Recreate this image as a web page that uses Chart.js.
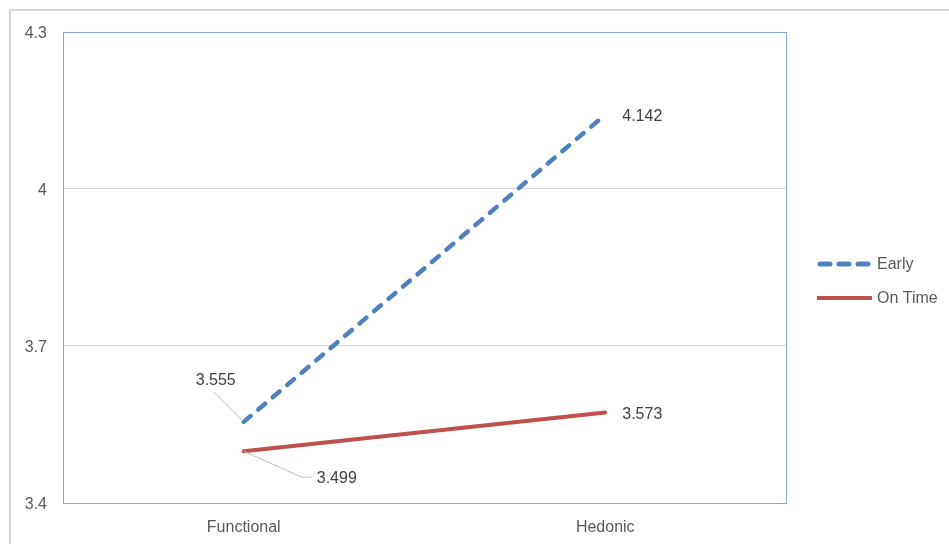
<!DOCTYPE html>
<html>
<head>
<meta charset="utf-8">
<script src="https://cdn.jsdelivr.net/npm/chart.js@4.4.1/dist/chart.umd.min.js"></script>
<style>
  html, body { margin: 0; padding: 0; background: #ffffff; }
  #wrap { width: 949px; height: 544px; position: relative; }
</style>
</head>
<body>
<div id="wrap"><canvas id="c" width="949" height="544"></canvas></div>
<script>
// Categories, series and axis ticks
const categories = ['Functional', 'Hedonic'];
const earlyValues = [3.555, 4.142];
const onTimeValues = [3.499, 3.573];
const yTicks = [3.4, 3.7, 4, 4.3];

const FONT = '"Liberation Sans", Arial, sans-serif';
const TEXT = '#595959';

// Value labels with leader lines (offsets in pixels from the point)
const labelPlacement = {
  0: [ { dx: -28, dy: -41, leader: true, align: 'center' }, { dx: 17, dy: 2, leader: false, align: 'left' } ],
  1: [ { dx: 73, dy: 27, leader: true, align: 'left' },     { dx: 17, dy: 2, leader: false, align: 'left' } ]
};

const frame = {
  id: 'frame',
  beforeDraw(chart) {
    const ctx = chart.ctx;
    ctx.save();
    ctx.fillStyle = '#ffffff';
    ctx.fillRect(0, 0, chart.width, chart.height);
    ctx.strokeStyle = '#d9d9d9';
    ctx.lineWidth = 2;
    ctx.strokeRect(10, 10, chart.width + 20, chart.height + 20);
    ctx.restore();
  },
  beforeDatasetsDraw(chart) {
    const a = chart.chartArea;
    const ctx = chart.ctx;
    ctx.save();
    ctx.strokeStyle = '#86a8d6';
    ctx.lineWidth = 1;
    ctx.strokeRect(Math.round(a.left) + 0.5, Math.round(a.top) + 0.5,
                   Math.round(a.right - a.left), Math.round(a.bottom - a.top));
    ctx.restore();
  }
};

const valueLabels = {
  id: 'valueLabels',
  afterDatasetsDraw(chart) {
    const ctx = chart.ctx;
    ctx.save();
    ctx.font = '16px ' + FONT;
    ctx.textBaseline = 'middle';
    chart.data.datasets.forEach((ds, di) => {
      const meta = chart.getDatasetMeta(di);
      meta.data.forEach((pt, i) => {
        const p = labelPlacement[di][i];
        const txt = ds.data[i].toFixed(3);
        const tx = pt.x + p.dx, ty = pt.y + p.dy;
        if (p.leader) {
          ctx.strokeStyle = '#bfbfbf';
          ctx.lineWidth = 1;
          ctx.beginPath();
          if (p.align === 'center') {
            ctx.moveTo(tx - 2, ty + 11);
            ctx.lineTo(pt.x - 2, pt.y - 2);
          } else {
            ctx.moveTo(pt.x, pt.y);
            ctx.lineTo(tx - 15, ty - 1);
            ctx.lineTo(tx - 5, ty - 1);
          }
          ctx.stroke();
        }
        ctx.fillStyle = '#404040';
        ctx.textAlign = p.align;
        ctx.fillText(txt, tx, ty);
      });
    });
    ctx.restore();
  }
};

const sideLegend = {
  id: 'sideLegend',
  afterDraw(chart) {
    const ctx = chart.ctx;
    ctx.save();
    ctx.font = '16px ' + FONT;
    ctx.textBaseline = 'middle';
    ctx.textAlign = 'left';
    chart.data.datasets.forEach((ds, i) => {
      const y = 264 + i * 34;
      ctx.strokeStyle = ds.borderColor;
      ctx.lineWidth = ds.borderDash.length ? 5 : 4;
      ctx.lineCap = ds.borderDash.length ? 'round' : 'butt';
      ctx.setLineDash(ds.borderDash.length ? [10, 9] : []);
      ctx.beginPath();
      ctx.moveTo(ds.borderDash.length ? 820 : 817, y);
      ctx.lineTo(872, y);
      ctx.stroke();
      ctx.setLineDash([]);
      ctx.fillStyle = TEXT;
      ctx.fillText(ds.label, 877, y + 1);
    });
    ctx.restore();
  }
};

new Chart(document.getElementById('c'), {
  type: 'line',
  data: {
    labels: categories,
    datasets: [
      {
        label: 'Early',
        data: earlyValues,
        borderColor: '#4f81bd',
        borderWidth: 4.5,
        borderDash: [9, 10],
        borderCapStyle: 'round',
        pointRadius: 0,
        tension: 0,
        fill: false
      },
      {
        label: 'On Time',
        data: onTimeValues,
        borderColor: '#c0504d',
        borderWidth: 4,
        borderDash: [],
        borderCapStyle: 'round',
        pointRadius: 0,
        tension: 0,
        fill: false
      }
    ]
  },
  options: {
    responsive: false,
    animation: false,
    devicePixelRatio: 1,
    layout: { padding: { left: 0, top: 32, right: 163, bottom: 0 } },
    plugins: {
      legend: { display: false },
      tooltip: { enabled: false }
    },
    scales: {
      x: {
        offset: true,
        grid: { display: false, drawTicks: false },
        border: { display: false },
        ticks: { color: TEXT, font: { family: FONT, size: 16 }, padding: 15 },
        afterFit(s) { s.height = 41; }
      },
      y: {
        min: 3.4,
        max: 4.3,
        afterBuildTicks(s) { s.ticks = yTicks.map(v => ({ value: v })); },
        grid: { color: '#d9d9d9', lineWidth: 1, drawTicks: false },
        border: { display: false },
        ticks: {
          color: TEXT,
          font: { family: FONT, size: 16 },
          padding: 16,
          labelOffset: 2,
          callback: v => String(v)
        },
        afterFit(s) { s.width = 63; }
      }
    }
  },
  plugins: [frame, valueLabels, sideLegend]
});
</script>
</body>
</html>
